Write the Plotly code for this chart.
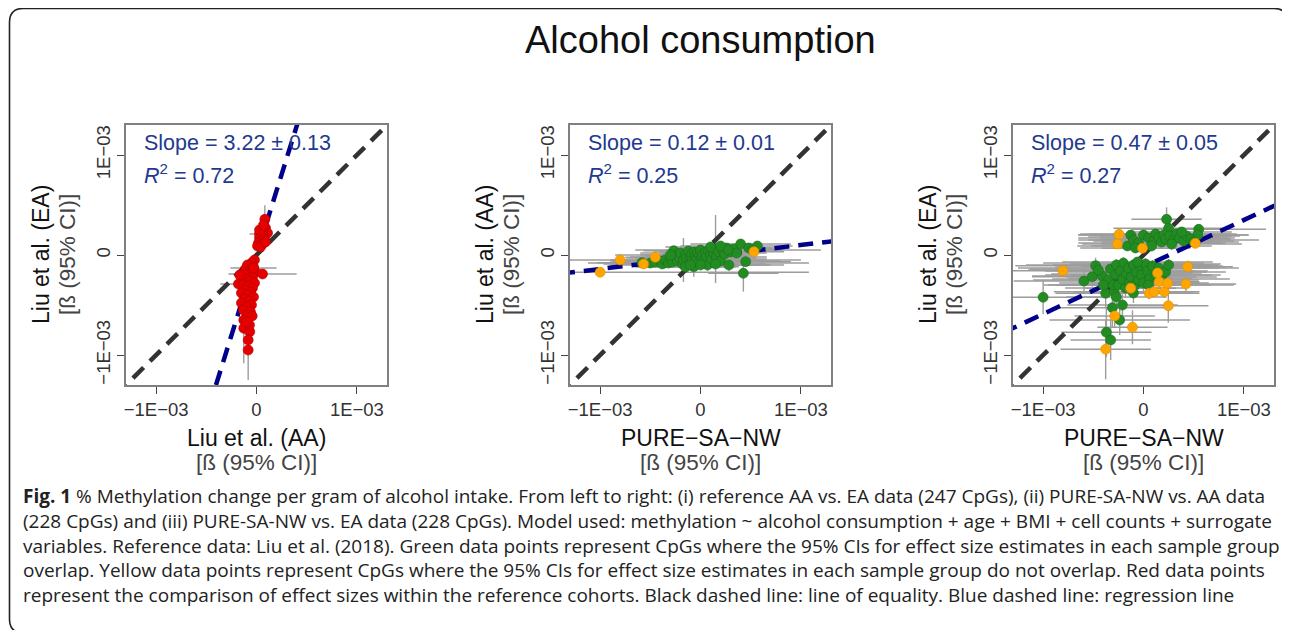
import plotly.graph_objects as go

# page has an 8px body margin: the figure is sized so that it exactly fills the 1290x630 window
PAGE_W, PAGE_H, BODY_MARGIN = 1290, 630, 8
W, H = PAGE_W - BODY_MARGIN, PAGE_H - BODY_MARGIN

# ---------------- data (effect sizes in units of 1E-03) ----------------
# Panel 1: Liu et al. (AA) vs Liu et al. (EA) -- red points
p1_x = [0.083, 0.09, 0.11, 0.06, 0.03, 0.07, 0.03, 0.08, 0.05, 0.02, 0.06, 0.01, 0.04, 0.09, 0.03, 0.07,
        -0.02, -0.05, -0.09, -0.03, -0.11, -0.06, -0.01, -0.08, 0.06, -0.12,
        -0.04, -0.10, -0.06, -0.02, -0.18, -0.13, -0.08, -0.04, -0.11, -0.06,
        -0.15, -0.09, -0.03, -0.12, -0.07, -0.15, -0.05, -0.10, -0.13, -0.06,
        -0.09, -0.127, -0.043, -0.127, -0.067, -0.083, -0.083, -0.07, -0.10, -0.167, -0.03]
p1_y = [0.357, 0.27, 0.22, 0.24, 0.21, 0.19, 0.17, 0.16, 0.14, 0.12, 0.11, 0.09, 0.08, 0.13, 0.25, 0.30,
        -0.05, -0.08, -0.10, -0.12, -0.14, -0.15, -0.17, -0.19, -0.19, -0.20,
        -0.22, -0.24, -0.26, -0.28, -0.29, -0.30, -0.31, -0.33, -0.35, -0.37,
        -0.38, -0.40, -0.42, -0.44, -0.46, -0.48, -0.50, -0.52, -0.55, -0.57,
        -0.60, -0.65, -0.61, -0.733, -0.767, -0.85, -0.95, -0.70, -0.67, -0.20, -0.13]
p1_xerr = [0.03, 0.04, 0.03, 0.02, 0.10, 0.03, 0.02, 0.03, 0.02, 0.03, 0.02, 0.03, 0.02, 0.03, 0.02, 0.03,
           0.03, 0.04, 0.02, 0.03, 0.05, 0.03, 0.02, 0.04, 0.34, 0.03,
           0.02, 0.05, 0.03, 0.02, 0.18, 0.04, 0.03, 0.02, 0.04, 0.03,
           0.05, 0.03, 0.02, 0.04, 0.03, 0.04, 0.02, 0.03, 0.04, 0.02,
           0.03, 0.04, 0.02, 0.03, 0.02, 0.03, 0.02, 0.02, 0.03, 0.05, 0.23]
p1_yerr = [0.14, 0.05, 0.04, 0.06, 0.03, 0.04, 0.05, 0.03, 0.04, 0.05, 0.03, 0.04, 0.03, 0.04, 0.05, 0.04,
           0.04, 0.06, 0.05, 0.04, 0.08, 0.06, 0.05, 0.10, 0.05, 0.07,
           0.06, 0.09, 0.07, 0.05, 0.06, 0.12, 0.08, 0.06, 0.10, 0.08,
           0.09, 0.12, 0.07, 0.10, 0.09, 0.11, 0.08, 0.12, 0.10, 0.09,
           0.12, 0.15, 0.10, 0.35, 0.12, 0.15, 0.30, 0.10, 0.12, 0.06, 0.05]

# Panel 2: PURE-SA-NW vs Liu et al. (AA)
p2g_x = [-0.583, -0.50, -0.45, -0.40, -0.38, -0.35, -0.32, -0.30, -0.28, -0.267,
         -0.25, -0.23, -0.21, -0.20, -0.18, -0.17, -0.15, -0.14, -0.12, -0.11,
         -0.10, -0.09, -0.08, -0.067, -0.06, -0.05, -0.04, -0.03, -0.02, -0.01,
         0.00, 0.01, 0.02, 0.03, 0.05, 0.06, 0.07, 0.08, 0.10, 0.11,
         0.13, 0.15, 0.16, 0.18, 0.20, 0.22, 0.24, 0.26, 0.283, 0.30,
         0.33, 0.36, 0.40, 0.427, 0.45, 0.48, 0.52, 0.567, -0.15, 0.00,
         0.10, -0.30, 0.20, 0.15, -0.10, 0.275]
p2g_y = [-0.077, -0.08, -0.07, -0.06, -0.09, -0.05, -0.08, -0.04, -0.07, 0.043,
         -0.02, -0.06, -0.03, 0.02, -0.09, -0.05, 0.00, -0.03, 0.04, -0.07,
         -0.02, 0.01, -0.05, -0.117, 0.03, -0.01, -0.04, 0.02, -0.08, 0.00,
         0.05, -0.03, 0.01, -0.06, 0.03, -0.01, -0.10, 0.04, 0.00, -0.04,
         0.02, 0.06, -0.02, 0.03, -0.06, 0.05, 0.01, 0.07, -0.10, 0.03,
         0.06, 0.02, 0.11, -0.183, -0.067, 0.07, 0.05, 0.09, -0.12, -0.10,
         0.08, 0.00, 0.09, -0.09, -0.10, 0.05]
p2g_xerr = [0.45, 0.40, 0.35, 0.50, 0.30, 0.55, 0.40, 0.35, 0.60, 0.30,
            0.45, 0.50, 0.35, 0.40, 0.55, 0.30, 0.45, 0.60, 0.35, 0.50,
            0.40, 0.30, 0.55, 0.45, 0.35, 0.50, 0.40, 0.30, 1.10, 0.45,
            0.35, 0.55, 0.40, 0.60, 0.30, 0.45, 0.50, 0.35, 0.40, 0.55,
            0.30, 0.45, 0.50, 0.35, 0.60, 0.40, 0.30, 0.45, 0.55, 0.35,
            0.40, 0.30, 0.50, 0.35, 0.45, 0.40, 0.30, 0.35, 0.50, 0.60,
            0.45, 0.55, 0.40, 0.50, 0.80, 0.925]
p2g_yerr = [0.04, 0.03, 0.05, 0.04, 0.03, 0.05, 0.04, 0.03, 0.05, 0.04,
            0.03, 0.05, 0.04, 0.06, 0.03, 0.22, 0.04, 0.05, 0.03, 0.04,
            0.05, 0.03, 0.04, 0.10, 0.03, 0.05, 0.04, 0.06, 0.03, 0.04,
            0.05, 0.04, 0.03, 0.05, 0.04, 0.03, 0.06, 0.04, 0.05, 0.03,
            0.04, 0.34, 0.05, 0.03, 0.04, 0.05, 0.03, 0.04, 0.06, 0.03,
            0.05, 0.04, 0.03, 0.183, 0.04, 0.05, 0.03, 0.04, 0.05, 0.04,
            0.03, 0.05, 0.04, 0.03, 0.04, 0.05]
p2o_x = [-1.0, -0.8, -0.567, -0.45, 0.533]
p2o_y = [-0.173, -0.05, -0.09, -0.023, 0.033]
p2o_xerr = [2.08, 1.8, 0.4, 0.3, 0.3]
p2o_yerr = [0.03, 0.03, 0.03, 0.03, 0.03]

# Panel 3: PURE-SA-NW vs Liu et al. (EA)
p3g_x = [0.23, 0.25, 0.55, 0.54, -0.127, -0.16, -0.10, -0.05, 0.00, 0.05,
         0.10, 0.12, 0.15, 0.18, 0.20, 0.22, 0.26, 0.30, 0.33, 0.36,
         0.40, 0.43, 0.47, 0.50, 0.08, -0.08, 0.28, 0.38,
         -1.0, -0.593, -0.477, -0.51, -0.41, -0.377, -0.293, -0.35, -0.33, -0.30,
         -0.28, -0.27, -0.25, -0.23, -0.21, -0.20, -0.18, -0.17, -0.15, -0.14,
         -0.12, -0.10, -0.08, -0.07, -0.05, -0.03, -0.02, 0.00, 0.02, 0.04,
         0.06, 0.09, 0.12, 0.15, 0.18, 0.22, 0.25, -0.31, -0.237, -0.37,
         -0.327, -0.21, -0.27, -0.10, 0.05, -0.40, -0.45, -0.06]
p3g_y = [0.357, 0.267, 0.257, 0.20, 0.20, 0.09, 0.15, 0.12, 0.20, 0.17,
         0.14, 0.21, 0.18, 0.13, 0.20, 0.16, 0.19, 0.15, 0.21, 0.17,
         0.14, 0.19, 0.16, 0.13, 0.09, 0.07, 0.11, 0.23,
         -0.423, -0.26, -0.107, -0.217, -0.21, -0.383, -0.367, -0.25, -0.14, -0.30,
         -0.20, -0.10, -0.30, -0.16, -0.24, -0.08, -0.33, -0.19, -0.13, -0.28,
         -0.22, -0.10, -0.30, -0.17, -0.25, -0.12, -0.20, -0.28, -0.09, -0.16,
         -0.24, -0.11, -0.20, -0.13, -0.22, -0.17, -0.10, -0.527, -0.65, -0.773,
         -0.85, -0.50, -0.42, -0.38, -0.30, -0.30, -0.15, -0.07]
p3g_xerr = [0.35, 0.55, 0.67, 0.50, 0.45, 0.50, 0.55, 0.60, 0.65, 0.70,
            0.60, 0.75, 0.70, 0.60, 0.85, 0.65, 0.70, 0.85, 0.60, 0.55,
            0.50, 0.45, 0.40, 0.45, 0.60, 0.55, 0.70, 0.50,
            0.60, 0.70, 0.80, 0.60, 0.70, 0.50, 0.60, 0.75, 0.80, 0.65,
            0.70, 0.90, 0.60, 0.75, 0.70, 0.80, 0.60, 0.75, 1.10, 0.70,
            0.65, 0.80, 0.75, 0.70, 0.60, 0.85, 0.70, 0.65, 0.75, 0.60,
            0.80, 0.70, 0.65, 0.60, 0.55, 0.60, 0.50, 0.60, 0.70, 0.45,
            0.40, 0.55, 0.50, 0.60, 0.85, 0.60, 0.70, 0.75]
p3g_yerr = [0.12, 0.08, 0.05, 0.06, 0.05, 0.04, 0.06, 0.05, 0.07, 0.05,
            0.04, 0.06, 0.05, 0.04, 0.06, 0.05, 0.07, 0.05, 0.04, 0.06,
            0.05, 0.04, 0.06, 0.05, 0.04, 0.05, 0.06, 0.05,
            0.17, 0.13, 0.08, 0.10, 0.08, 0.15, 0.12, 0.08, 0.06, 0.10,
            0.07, 0.06, 0.09, 0.07, 0.08, 0.06, 0.10, 0.07, 0.06, 0.09,
            0.08, 0.06, 0.10, 0.07, 0.08, 0.06, 0.07, 0.09, 0.06, 0.07,
            0.08, 0.06, 0.07, 0.06, 0.08, 0.07, 0.06, 0.20, 0.15, 0.25,
            0.20, 0.15, 0.12, 0.10, 0.08, 0.10, 0.07, 0.05]
p3o_x = [-0.243, -0.26, -0.01, 0.517, -0.803, 0.44, 0.423, 0.247, -0.11, -0.377,
         -0.287, 0.207, 0.157, 0.057, 0.24, 0.14, -0.127, 0.107]
p3o_y = [0.207, 0.11, 0.067, 0.117, -0.157, -0.117, -0.29, -0.507, -0.723, -0.943,
         -0.61, -0.367, -0.267, -0.383, -0.283, -0.18, -0.333, -0.367]
p3o_xerr = [0.30, 0.35, 0.40, 0.30, 0.50, 0.45, 0.50, 0.40, 0.35, 0.45,
            0.40, 0.35, 0.40, 0.50, 0.30, 0.35, 0.45, 0.30]
p3o_yerr = [0.05, 0.04, 0.04, 0.05, 0.05, 0.06, 0.07, 0.17, 0.17, 0.30,
            0.12, 0.06, 0.05, 0.06, 0.05, 0.04, 0.06, 0.05]

# regression lines (slope, intercept in 1E-03 units) and stats text
reg_slope = [3.22, 0.12, 0.47]
reg_intercept = [0.0, -0.02, -0.12]
slope_text = ["Slope = 3.22 ± 0.13", "Slope = 0.12 ± 0.01", "Slope = 0.47 ± 0.05"]
r2_text = ["0.72", "0.25", "0.27"]
x_labels = ["Liu et al. (AA)", "PURE\u2212SA\u2212NW", "PURE\u2212SA\u2212NW"]
y_labels = ["Liu et al. (EA)", "Liu et al. (AA)", "Liu et al. (EA)"]
unit_label = "[ß (95% CI)]"
tick_vals = [-1, 0, 1]
tick_text = ["\u22121E\u221203", "0", "1E\u221203"]
AX_RANGE = [-1.3, 1.3]

caption_lines = [
    "<b>Fig. 1</b> % Methylation change per gram of alcohol intake. From left to right: (i) reference AA vs. EA data (247 CpGs), (ii) PURE-SA-NW vs. AA data",
    "(228 CpGs) and (iii) PURE-SA-NW vs. EA data (228 CpGs). Model used: methylation ~ alcohol consumption + age + BMI + cell counts + surrogate",
    "variables. Reference data: Liu et al. (2018). Green data points represent CpGs where the 95% CIs for effect size estimates in each sample group",
    "overlap. Yellow data points represent CpGs where the 95% CIs for effect size estimates in each sample group do not overlap. Red data points",
    "represent the comparison of effect sizes within the reference cohorts. Black dashed line: line of equality. Blue dashed line: regression line",
]

# ---------------- layout geometry (page pixels) ----------------
panel_left = [126, 570, 1013]
panel_w = 261
panel_top, panel_bottom = 125, 385

RED, GREEN, ORANGE = "#e60000", "#228b22", "#ffa500"
ERR = "#9c9c9c"
TXT_BLUE = "#22398f"
FONT = "Liberation Sans, Arial, sans-serif"


def fx(p):
    return (p - BODY_MARGIN) / W


def fy(p):
    return 1 - (p - BODY_MARGIN) / H


fig = go.Figure()

series = [
    [(p1_x, p1_y, p1_xerr, p1_yerr, RED, "#b00000")],
    [(p2g_x, p2g_y, p2g_xerr, p2g_yerr, GREEN, "#1b6e1b"), (p2o_x, p2o_y, p2o_xerr, p2o_yerr, ORANGE, "#e08e00")],
    [(p3g_x, p3g_y, p3g_xerr, p3g_yerr, GREEN, "#1b6e1b"), (p3o_x, p3o_y, p3o_xerr, p3o_yerr, ORANGE, "#e08e00")],
]

for i in range(3):
    ax = "" if i == 0 else str(i + 1)
    xa, ya = "x" + ax, "y" + ax
    # error bars first
    for (xs, ys, xe, ye, col, edge) in series[i]:
        fig.add_trace(go.Scatter(
            x=xs, y=ys, mode="markers", xaxis=xa, yaxis=ya,
            marker=dict(size=2, color="rgba(0,0,0,0)"),
            error_x=dict(type="data", array=xe, color=ERR, thickness=1.4, width=0),
            error_y=dict(type="data", array=ye, color=ERR, thickness=1.4, width=0),
            showlegend=False, hoverinfo="skip"))
    # line of equality
    lx = [AX_RANGE[0] - 0.1, AX_RANGE[1] + 0.1]
    fig.add_trace(go.Scatter(x=lx, y=lx, mode="lines", xaxis=xa, yaxis=ya,
                             line=dict(color="#333333", width=4.5, dash="15px,9px"),
                             showlegend=False, hoverinfo="skip"))
    # regression line
    ry = [reg_intercept[i] + reg_slope[i] * v for v in lx]
    fig.add_trace(go.Scatter(x=lx, y=ry, mode="lines", xaxis=xa, yaxis=ya,
                             line=dict(color="#00008b", width=4.5, dash="15px,9px"),
                             showlegend=False, hoverinfo="skip"))
    # points
    for (xs, ys, xe, ye, col, edge) in series[i]:
        fig.add_trace(go.Scatter(
            x=xs, y=ys, mode="markers", xaxis=xa, yaxis=ya,
            marker=dict(size=10, color=col, line=dict(color=edge, width=0.6)),
            showlegend=False, hoverinfo="skip"))

axis_common = dict(range=AX_RANGE, tickvals=tick_vals, ticktext=tick_text,
                   ticks="outside", ticklen=7, tickwidth=1.4, tickcolor="#444",
                   showline=True, linecolor="#808080", linewidth=2, mirror=True,
                   showgrid=False, zeroline=False,
                   tickfont=dict(family=FONT, size=18.5, color="#333"))

layout_axes = {}
for i in range(3):
    ax = "" if i == 0 else str(i + 1)
    x0 = panel_left[i]
    layout_axes["xaxis" + ax] = dict(axis_common, domain=[fx(x0), fx(x0 + panel_w)],
                                     anchor="y" + ax)
    layout_axes["yaxis" + ax] = dict(axis_common, domain=[fy(panel_bottom), fy(panel_top)],
                                     anchor="x" + ax, tickangle=-90)

annotations = []
annotations.append(dict(text="Alcohol consumption", x=fx(700), y=fy(40),
                        font=dict(family=FONT, size=38, color="#111")))
for i in range(3):
    x0 = panel_left[i]
    cx = x0 + panel_w / 2
    cy = (panel_top + panel_bottom) / 2
    annotations += [
        dict(text=x_labels[i], x=fx(cx), y=fy(438), font=dict(family=FONT, size=23, color="#111")),
        dict(text=unit_label, x=fx(cx), y=fy(462), font=dict(family=FONT, size=22.5, color="#444")),
        dict(text=y_labels[i], x=fx(x0 - 85), y=fy(cy), textangle=-90,
             font=dict(family=FONT, size=23, color="#111")),
        dict(text=unit_label, x=fx(x0 - 58), y=fy(cy), textangle=-90,
             font=dict(family=FONT, size=22.5, color="#444")),
        dict(text=slope_text[i], x=fx(x0 + 16), y=fy(143), xanchor="left",
             font=dict(family=FONT, size=21.5, color=TXT_BLUE)),
        dict(text="<i>R</i><sup>2</sup> = " + r2_text[i], x=fx(x0 + 16), y=fy(174), xanchor="left",
             font=dict(family=FONT, size=21.5, color=TXT_BLUE)),
    ]
for k, line in enumerate(caption_lines):
    annotations.append(dict(text=line, x=fx(21), y=fy(496 + 24.8 * k), xanchor="left",
                            font=dict(family="Open Sans, sans-serif", size=19, color="#222")))
for a in annotations:
    a.setdefault("xref", "paper")
    a.setdefault("yref", "paper")
    a.setdefault("showarrow", False)
    a.setdefault("xanchor", "center")
    a.setdefault("yanchor", "middle")

# rounded frame (page pixels)
L, T, R, B, r = 9.5, 8.5, 1288.0, 633.0, 14
path = (f"M {fx(L)},{fy(T + r)} Q {fx(L)},{fy(T)} {fx(L + r)},{fy(T)} "
        f"L {fx(R - r)},{fy(T)} Q {fx(R)},{fy(T)} {fx(R)},{fy(T + r)} "
        f"L {fx(R)},{fy(B - r)} Q {fx(R)},{fy(B)} {fx(R - r)},{fy(B)} "
        f"L {fx(L + r)},{fy(B)} Q {fx(L)},{fy(B)} {fx(L)},{fy(B - r)} Z")
shapes = [dict(type="path", path=path, xref="paper", yref="paper",
               line=dict(color="#222", width=1.6))]

fig.update_layout(width=W, height=H, margin=dict(l=0, r=0, t=0, b=0, autoexpand=False),
                  paper_bgcolor="white", plot_bgcolor="white",
                  annotations=annotations, shapes=shapes, **layout_axes)

fig.write_html("out.html")
